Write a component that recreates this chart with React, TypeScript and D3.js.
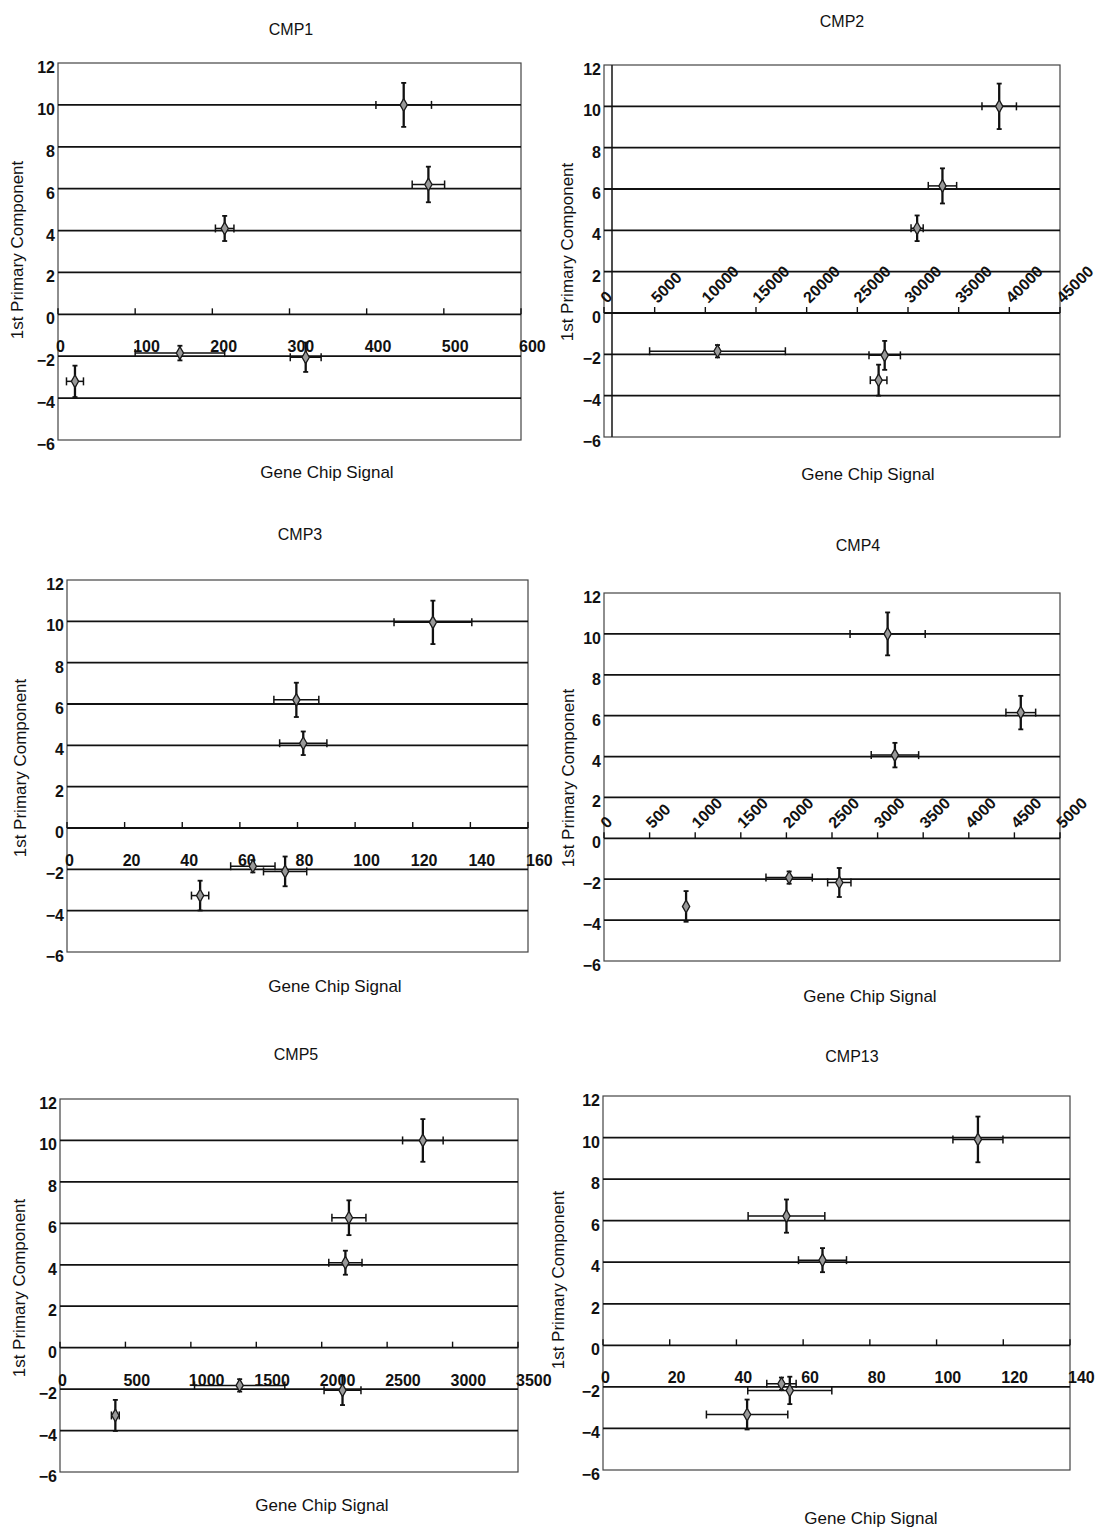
import React from 'react';
import * as d3 from 'd3';

// ---------- data ----------
const cmp1X = [448, 480, 216, 158, 321, 22];
const cmp1Y = [10.0, 6.2, 4.1, -1.85, -2.05, -3.2];
const cmp1XErr = [36, 21, 12, 58, 20, 11];
const cmp1YErr = [1.05, 0.85, 0.6, 0.35, 0.7, 0.75];

const cmp2X = [39000, 33400, 30900, 11200, 27700, 27100];
const cmp2Y = [10.0, 6.15, 4.1, -1.85, -2.05, -3.25];
const cmp2XErr = [1700, 1400, 600, 6700, 1550, 820];
const cmp2YErr = [1.1, 0.85, 0.62, 0.3, 0.7, 0.75];

const cmp3X = [127, 79.6, 82, 64.5, 75.7, 46.2];
const cmp3Y = [9.95, 6.2, 4.1, -1.85, -2.1, -3.27];
const cmp3XErr = [13.5, 7.8, 8.2, 7.7, 7.5, 3];
const cmp3YErr = [1.05, 0.83, 0.57, 0.3, 0.72, 0.72];

const cmp4X = [3110, 4570, 3190, 2030, 2580, 900];
const cmp4Y = [10.0, 6.15, 4.07, -1.92, -2.16, -3.33];
const cmp4XErr = [412, 163, 260, 254, 128, 15];
const cmp4YErr = [1.05, 0.82, 0.6, 0.3, 0.71, 0.75];

const cmp5X = [2773, 2208, 2181, 1373, 2159, 423];
const cmp5Y = [10.0, 6.27, 4.1, -1.82, -2.06, -3.27];
const cmp5XErr = [155, 130, 127, 345, 141, 30];
const cmp5YErr = [1.03, 0.84, 0.58, 0.3, 0.71, 0.75];

const cmp13X = [112.4, 55, 65.8, 53.5, 56, 43.2];
const cmp13Y = [9.91, 6.22, 4.1, -1.85, -2.17, -3.33];
const cmp13XErr = [7.5, 11.5, 7.2, 4.4, 12.6, 12.2];
const cmp13YErr = [1.1, 0.8, 0.58, 0.3, 0.66, 0.72];

const panelTitles = ['CMP1', 'CMP2', 'CMP3', 'CMP4', 'CMP5', 'CMP13'];
const xMaxes = [600, 45000, 160, 5000, 3500, 140];
const xSteps = [100, 5000, 20, 500, 500, 20];
const yTickValues = [-6, -4, -2, 0, 2, 4, 6, 8, 10, 12];
const xAxisTitle = 'Gene Chip Signal';
const yAxisTitle = '1st Primary Component';

const seriesX = [cmp1X, cmp2X, cmp3X, cmp4X, cmp5X, cmp13X];
const seriesY = [cmp1Y, cmp2Y, cmp3Y, cmp4Y, cmp5Y, cmp13Y];
const seriesXErr = [cmp1XErr, cmp2XErr, cmp3XErr, cmp4XErr, cmp5XErr, cmp13XErr];
const seriesYErr = [cmp1YErr, cmp2YErr, cmp3YErr, cmp4YErr, cmp5YErr, cmp13YErr];

// ---------- layout ----------
type Layout = {
  left: number; right: number; top: number; bottom: number;
  title: [number, number]; xLabel: [number, number]; yLabel: [number, number];
  rotated: boolean; extraVLine?: number;
};
const layouts: Layout[] = [
  { left: 58, right: 521, top: 63, bottom: 440, title: [291, 30], xLabel: [327, 472], yLabel: [17, 250], rotated: false },
  { left: 604, right: 1060, top: 65, bottom: 437, title: [842, 22], xLabel: [868, 474], yLabel: [567, 252], rotated: true, extraVLine: 8 },
  { left: 67, right: 528, top: 580, bottom: 952, title: [300, 535], xLabel: [335, 986], yLabel: [20, 768], rotated: false },
  { left: 604, right: 1060, top: 593, bottom: 961, title: [858, 546], xLabel: [870, 996], yLabel: [568, 778], rotated: true },
  { left: 60, right: 518, top: 1099, bottom: 1472, title: [296, 1055], xLabel: [322, 1505], yLabel: [19, 1288], rotated: false },
  { left: 603, right: 1070, top: 1096, bottom: 1470, title: [852, 1057], xLabel: [871, 1518], yLabel: [558, 1280], rotated: false },
];

const FONT = '"Liberation Sans", Arial, sans-serif';
const fmtY = (v: number) => (v < 0 ? '\u2212' + Math.abs(v) : String(v));

function Panel({ i }: { i: number }) {
  const L = layouts[i];
  const x = d3.scaleLinear().domain([0, xMaxes[i]]).range([L.left, L.right]);
  const y = d3.scaleLinear().domain([-6, 12]).range([L.bottom, L.top]);
  const xTicks = d3.range(0, xMaxes[i] + xSteps[i] / 2, xSteps[i]);
  const y0 = y(0);
  const diamond = d3.symbol().type(d3.symbolDiamond).size(46)() as string;
  const pts = seriesX[i].map((xv, k) => ({
    x: xv, y: seriesY[i][k], ex: seriesXErr[i][k], ey: seriesYErr[i][k],
  }));
  return (
    <g>
      <text x={L.title[0]} y={L.title[1] + 5} textAnchor="middle" fontSize={16} fontFamily={FONT} fill="#111">{panelTitles[i]}</text>
      {/* plot frame */}
      <rect x={L.left} y={L.top} width={L.right - L.left} height={L.bottom - L.top} fill="#fff" stroke="#444" strokeWidth={1.2} />
      {L.extraVLine !== undefined && (
        <line x1={L.left + L.extraVLine} x2={L.left + L.extraVLine} y1={L.top} y2={L.bottom} stroke="#222" strokeWidth={1.6} />
      )}
      {/* gridlines */}
      {yTickValues.filter(v => v > -6 && v < 12).map(v => (
        <line key={v} x1={L.left} x2={L.right} y1={y(v)} y2={y(v)} stroke="#111" strokeWidth={1.8} />
      ))}
      {/* y tick labels */}
      {yTickValues.map(v => (
        <text key={'yl' + v} x={L.left - 3} y={y(v) + 10} textAnchor="end" fontSize={16} fontWeight="bold" fontFamily={FONT} fill="#111">{fmtY(v)}</text>
      ))}
      {/* x ticks on the y=0 axis */}
      {xTicks.map(t => (
        <line key={'xt' + t} x1={x(t)} x2={x(t)} y1={y0} y2={y0 - 6} stroke="#111" strokeWidth={1.4} />
      ))}
      {xTicks.map(t =>
        L.rotated ? (
          <text key={'xl' + t} transform={`translate(${x(t) + 3},${y0 - 9}) rotate(-45)`} textAnchor="start" fontSize={16} fontWeight="bold" fontFamily={FONT} fill="#111">{t}</text>
        ) : (
          <text key={'xl' + t} x={x(t) - 2} y={y0 + 38} textAnchor="start" fontSize={16} fontWeight="bold" fontFamily={FONT} fill="#111">{t}</text>
        )
      )}
      {/* error bars */}
      {pts.map((p, k) => (
        <g key={'e' + k} stroke="#111" strokeWidth={1.5}>
          <line x1={x(p.x - p.ex)} x2={x(p.x + p.ex)} y1={y(p.y)} y2={y(p.y)} />
          <line x1={x(p.x - p.ex)} x2={x(p.x - p.ex)} y1={y(p.y) - 4} y2={y(p.y) + 4} />
          <line x1={x(p.x + p.ex)} x2={x(p.x + p.ex)} y1={y(p.y) - 4} y2={y(p.y) + 4} />
          <line x1={x(p.x)} x2={x(p.x)} y1={y(p.y - p.ey)} y2={y(p.y + p.ey)} strokeWidth={2.3} />
          <line x1={x(p.x) - 2.5} x2={x(p.x) + 2.5} y1={y(p.y + p.ey)} y2={y(p.y + p.ey)} strokeWidth={1.8} />
          <line x1={x(p.x) - 2.5} x2={x(p.x) + 2.5} y1={y(p.y - p.ey)} y2={y(p.y - p.ey)} strokeWidth={1.8} />
        </g>
      ))}
      {/* markers */}
      {pts.map((p, k) => (
        <path key={'m' + k} d={diamond} transform={`translate(${x(p.x)},${y(p.y)})`} fill="#999" stroke="#1a1a1a" strokeWidth={1.3} />
      ))}
      <text x={L.xLabel[0]} y={L.xLabel[1] + 6} textAnchor="middle" fontSize={17} fontFamily={FONT} fill="#111">{xAxisTitle}</text>
      <text transform={`translate(${L.yLabel[0] + 6},${L.yLabel[1]}) rotate(-90)`} textAnchor="middle" fontSize={17} fontFamily={FONT} fill="#111">{yAxisTitle}</text>
    </g>
  );
}

export default function App() {
  return (
    <svg width={1099} height={1532} style={{ position: 'absolute', left: 0, top: 0, background: '#fff' }}>
      <rect x={0} y={0} width={1099} height={1532} fill="#fff" />
      {panelTitles.map((_, i) => <Panel key={i} i={i} />)}
    </svg>
  );
}
